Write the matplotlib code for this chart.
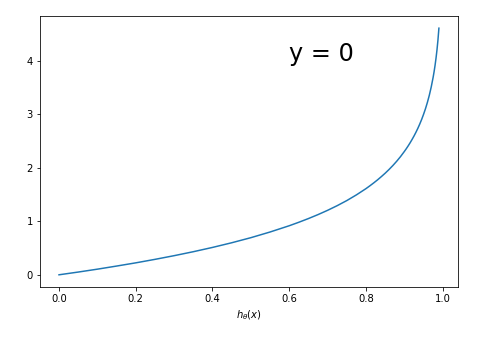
import matplotlib
matplotlib.use('Agg')
import matplotlib.pyplot as plt

# values
h = [0.0, 0.05, 0.1, 0.15, 0.2, 0.25, 0.3, 0.35, 0.4, 0.45, 0.5, 0.55,
     0.6, 0.625, 0.65, 0.675, 0.7, 0.725, 0.75, 0.775,
     0.8, 0.81, 0.82, 0.83, 0.84, 0.85, 0.86, 0.87, 0.88, 0.89,
     0.9, 0.905, 0.91, 0.915, 0.92, 0.925, 0.93, 0.935, 0.94, 0.945,
     0.95, 0.955, 0.96, 0.965, 0.97, 0.975, 0.9775, 0.98, 0.9825,
     0.985, 0.9875, 0.99]
cost = [0.0, 0.051, 0.105, 0.163, 0.223, 0.288, 0.357, 0.431, 0.511, 0.598,
        0.693, 0.799,
        0.916, 0.981, 1.050, 1.124, 1.204, 1.291, 1.386, 1.492,
        1.609, 1.661, 1.715, 1.772, 1.833, 1.897, 1.966, 2.040, 2.120, 2.207,
        2.303, 2.354, 2.408, 2.465, 2.526, 2.590, 2.659, 2.733, 2.813, 2.900,
        2.996, 3.101, 3.219, 3.352, 3.507, 3.689, 3.794, 3.912, 4.046,
        4.200, 4.382, 4.605]

fig = plt.figure(figsize=(482 / 72, 337 / 72), dpi=72)
ax = fig.add_axes([0.083, 0.148, 0.867, 0.805])
ax.plot(h, cost, color='#1f77b4', linewidth=1.5)
ax.text(0.6, 4, 'y = 0', fontsize=24)
ax.set_xlabel(r'$h_\theta(x)$')
ax.set_xticks([0.0, 0.2, 0.4, 0.6, 0.8, 1.0])
ax.set_yticks([0, 1, 2, 3, 4])

fig.savefig('out.png', dpi=72)
